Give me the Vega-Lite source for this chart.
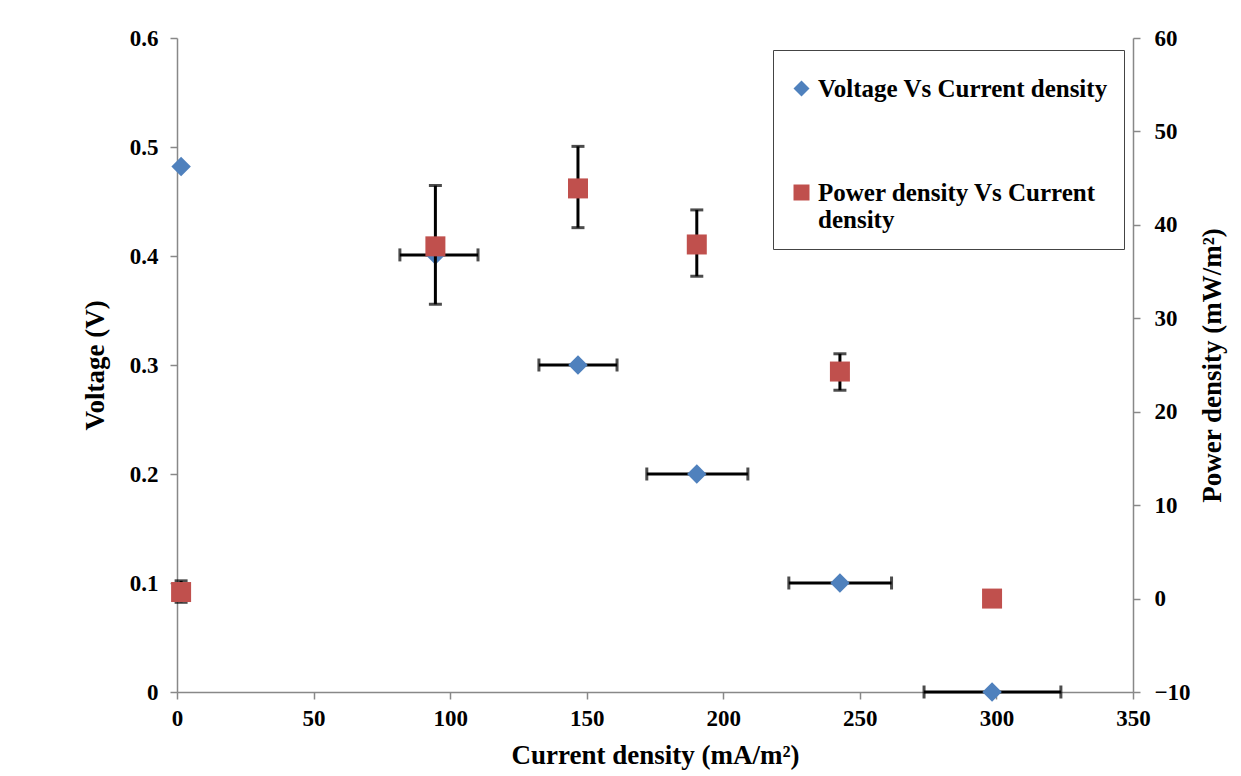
{
  "$schema": "https://vega.github.io/schema/vega-lite/v6.json",
  "width": 956,
  "height": 654,
  "autosize": "none",
  "padding": {"left": 177, "top": 38, "right": 108, "bottom": 84},
  "background": "white",
  "config": {
    "view": {"stroke": null},
    "axis": {
      "grid": false,
      "domainColor": "#888888",
      "tickColor": "#888888",
      "domainWidth": 1.5,
      "tickWidth": 1.5,
      "tickSize": 7,
      "labelFont": "Liberation Serif",
      "labelFontSize": 23,
      "labelFontWeight": "bold",
      "labelColor": "black",
      "labelFlush": false,
      "titleFont": "Liberation Serif",
      "titleFontSize": 27,
      "titleFontWeight": "bold",
      "titleColor": "black"
    },
    "legend": {
      "orient": "none",
      "legendX": 596,
      "legendY": 12,
      "strokeColor": "#444444",
      "fillColor": "white",
      "padding": 16,
      "rowPadding": 78,
      "symbolSize": 256,
      "symbolStrokeWidth": 0,
      "labelFont": "Liberation Serif",
      "labelFontSize": 25,
      "labelFontWeight": "bold",
      "labelColor": "black",
      "labelLimit": 400,
      "labelOffset": 4,
      "labelLineHeight": 31,
      "titleFontSize": 2,
      "titlePadding": 8
    }
  },
  "datasets": {
    "voltage": [
      {"series": "Voltage Vs Current density", "cd": 1.5, "v": 0.482},
      {"series": "Voltage Vs Current density", "cd": 94.6, "v": 0.401, "cdlo": 81.6, "cdhi": 110.2},
      {"series": "Voltage Vs Current density", "cd": 146.8, "v": 0.3, "cdlo": 132.5, "cdhi": 161.1},
      {"series": "Voltage Vs Current density", "cd": 190.3, "v": 0.2, "cdlo": 172.0, "cdhi": 209.0},
      {"series": "Voltage Vs Current density", "cd": 242.7, "v": 0.1, "cdlo": 224.0, "cdhi": 261.6},
      {"series": "Voltage Vs Current density", "cd": 298.4, "v": 0.0, "cdlo": 273.5, "cdhi": 323.6}
    ],
    "power": [
      {"series": "Power density Vs Current density", "cd": 1.5, "p": 0.7, "plo": -0.4, "phi": 1.9},
      {"series": "Power density Vs Current density", "cd": 94.6, "p": 37.7, "plo": 31.5, "phi": 44.2},
      {"series": "Power density Vs Current density", "cd": 146.8, "p": 43.9, "plo": 39.7, "phi": 48.4},
      {"series": "Power density Vs Current density", "cd": 190.3, "p": 37.9, "plo": 34.5, "phi": 41.6},
      {"series": "Power density Vs Current density", "cd": 242.7, "p": 24.3, "plo": 22.3, "phi": 26.2},
      {"series": "Power density Vs Current density", "cd": 298.4, "p": 0.0}
    ]
  },
  "layer": [
    {
      "data": {"name": "voltage"},
      "layer": [
        {
          "transform": [{"filter": "datum.cdlo != null"}],
          "mark": {"type": "errorbar", "ticks": {"color": "black"}, "rule": {"color": "black"}, "size": 13, "thickness": 3},
          "encoding": {
            "x": {"field": "cdlo", "type": "quantitative", "scale": {"domain": [0, 350], "nice": false}, "axis": {"title": "Current density (mA/m²)", "values": [0, 50, 100, 150, 200, 250, 300, 350], "labelPadding": 8, "titlePadding": 12}},
            "x2": {"field": "cdhi"},
            "y": {"field": "v", "type": "quantitative", "scale": {"domain": [0, 0.6], "nice": false}, "axis": {"title": "Voltage (V)", "values": [0, 0.1, 0.2, 0.3, 0.4, 0.5, 0.6], "format": ".1~f", "labelPadding": 12, "titlePadding": 20}}
          }
        },
        {
          "mark": {"type": "point", "filled": true, "size": 380, "opacity": 1},
          "encoding": {
            "x": {"field": "cd", "type": "quantitative", "scale": {"domain": [0, 350], "nice": false}, "axis": {"title": "Current density (mA/m²)", "values": [0, 50, 100, 150, 200, 250, 300, 350], "labelPadding": 8, "titlePadding": 12}},
            "y": {"field": "v", "type": "quantitative", "scale": {"domain": [0, 0.6], "nice": false}, "axis": {"title": "Voltage (V)", "values": [0, 0.1, 0.2, 0.3, 0.4, 0.5, 0.6], "format": ".1~f", "labelPadding": 12, "titlePadding": 20}},
            "color": {"field": "series", "type": "nominal", "scale": {"domain": ["Voltage Vs Current density", "Power density Vs Current density"], "range": ["#4F81BD", "#C0504D"]}, "legend": {"title": " ", "labelExpr": "datum.label == 'Power density Vs Current density' ? ['Power density Vs Current', 'density'] : datum.label"}},
            "shape": {"field": "series", "type": "nominal", "scale": {"domain": ["Voltage Vs Current density", "Power density Vs Current density"], "range": ["diamond", "square"]}, "legend": {"title": " ", "labelExpr": "datum.label == 'Power density Vs Current density' ? ['Power density Vs Current', 'density'] : datum.label"}}
          }
        }
      ]
    },
    {
      "data": {"name": "power"},
      "layer": [
        {
          "transform": [{"filter": "datum.plo != null"}],
          "mark": {"type": "errorbar", "ticks": {"color": "black"}, "rule": {"color": "black"}, "size": 13, "thickness": 3},
          "encoding": {
            "x": {"field": "cd", "type": "quantitative", "scale": {"domain": [0, 350], "nice": false}, "axis": {"title": "Current density (mA/m²)", "values": [0, 50, 100, 150, 200, 250, 300, 350], "labelPadding": 8, "titlePadding": 12}},
            "y": {"field": "plo", "type": "quantitative", "scale": {"domain": [-10, 60], "nice": false}, "axis": {"orient": "right", "title": "Power density (mW/m²)", "values": [-10, 0, 10, 20, 30, 40, 50, 60], "labelPadding": 14, "titlePadding": 36, "titleAngle": -90}},
            "y2": {"field": "phi"}
          }
        },
        {
          "mark": {"type": "point", "filled": true, "size": 400, "opacity": 1},
          "encoding": {
            "x": {"field": "cd", "type": "quantitative", "scale": {"domain": [0, 350], "nice": false}, "axis": {"title": "Current density (mA/m²)", "values": [0, 50, 100, 150, 200, 250, 300, 350], "labelPadding": 8, "titlePadding": 12}},
            "y": {"field": "p", "type": "quantitative", "scale": {"domain": [-10, 60], "nice": false}, "axis": {"orient": "right", "title": "Power density (mW/m²)", "values": [-10, 0, 10, 20, 30, 40, 50, 60], "labelPadding": 14, "titlePadding": 36, "titleAngle": -90}},
            "color": {"field": "series", "type": "nominal"},
            "shape": {"field": "series", "type": "nominal"}
          }
        }
      ]
    }
  ],
  "resolve": {"scale": {"y": "independent"}}
}
